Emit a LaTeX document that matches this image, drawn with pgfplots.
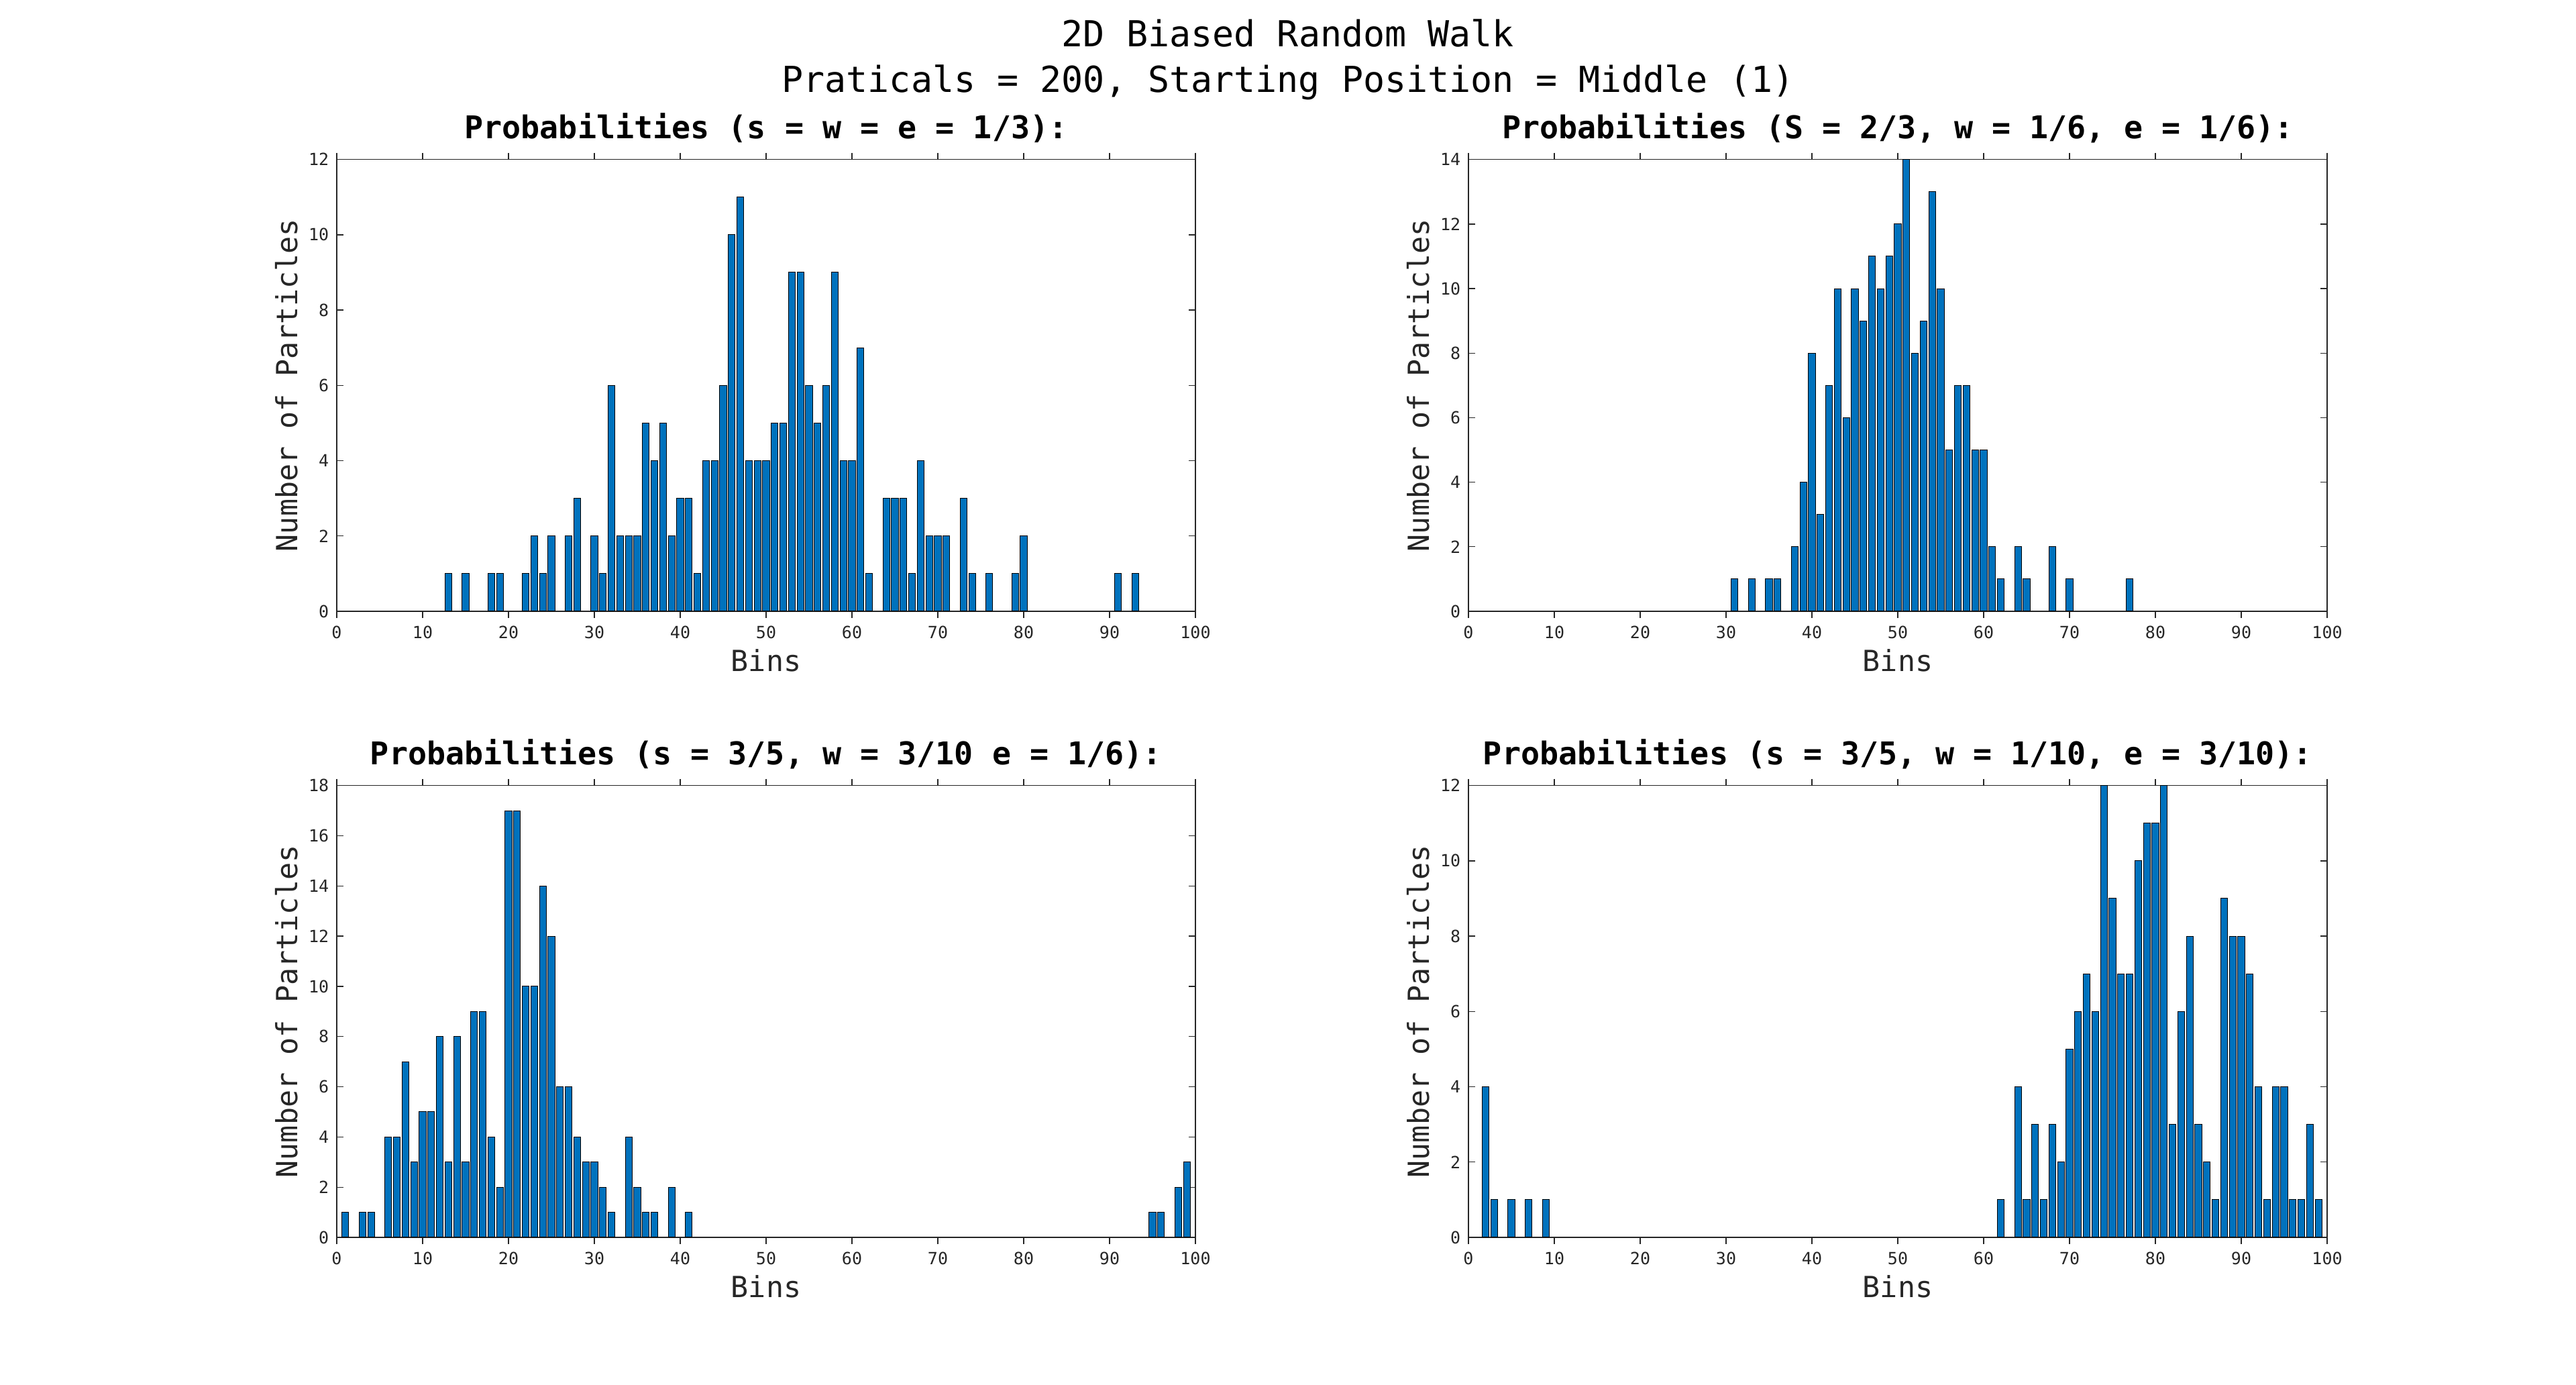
\documentclass[border=0pt]{standalone}
\usepackage{fontspec}
\setmainfont{DejaVu Sans Mono}
\usepackage{pgfplots}
\pgfplotsset{compat=1.18}
\definecolor{mblue}{HTML}{0072BD}
\definecolor{mgray}{HTML}{262626}
\pgfplotsset{
  hist/.style={
    scale only axis, width=384pt, height=202pt, anchor=south west,
    xmin=0, xmax=100, ymin=0,
    xtick={0,10,...,100},
    tick align=inside, tick pos=both, major tick length=3pt,
    axis line style={mgray, line width=0.4pt},
    tick style={mgray, line width=0.4pt},
    /pgf/number format/assume math mode=true,
    ticklabel style={font=\fontsize{7.5}{9}\selectfont, text=mgray},
    xlabel={Bins}, ylabel={Number of Particles},
    label style={font=\fontsize{13}{15}\selectfont, text=mgray},
    xlabel style={yshift=2pt},
    ylabel style={yshift=-2pt},
    title style={font=\bfseries\fontsize{14}{16}\selectfont, yshift=-2pt},
    ybar, bar width=0.8,
  },
  hbar/.style={fill=mblue, draw=black, line width=0.3pt},
}
\begin{document}
\begin{tikzpicture}
\path[use as bounding box] (0,0) rectangle (1152pt,618.9pt);
\node[font=\fontsize{16}{18}\selectfont, text=black] at (576pt,604pt) {2D Biased Random Walk};
\node[font=\fontsize{16}{18}\selectfont, text=black] at (576pt,582pt) {Praticals = 200, Starting Position = Middle (1)};

\begin{axis}[hist, at={(150.6pt,345.6pt)}, ymax=12, ytick={0,2,...,12},
  title={Probabilities (s = w = e = 1/3):}]
\addplot[hbar] coordinates {(13,1)(15,1)(18,1)(19,1)(22,1)(23,2)(24,1)(25,2)(27,2)(28,3)(30,2)(31,1)(32,6)(33,2)(34,2)(35,2)(36,5)(37,4)(38,5)(39,2)(40,3)(41,3)(42,1)(43,4)(44,4)(45,6)(46,10)(47,11)(48,4)(49,4)(50,4)(51,5)(52,5)(53,9)(54,9)(55,6)(56,5)(57,6)(58,9)(59,4)(60,4)(61,7)(62,1)(64,3)(65,3)(66,3)(67,1)(68,4)(69,2)(70,2)(71,2)(73,3)(74,1)(76,1)(79,1)(80,2)(91,1)(93,1)};
\end{axis}

\begin{axis}[hist, at={(656.7pt,345.6pt)}, ymax=14, ytick={0,2,...,14},
  title={Probabilities (S = 2/3, w = 1/6, e = 1/6):}]
\addplot[hbar] coordinates {(31,1)(33,1)(35,1)(36,1)(38,2)(39,4)(40,8)(41,3)(42,7)(43,10)(44,6)(45,10)(46,9)(47,11)(48,10)(49,11)(50,12)(51,14)(52,8)(53,9)(54,13)(55,10)(56,5)(57,7)(58,7)(59,5)(60,5)(61,2)(62,1)(64,2)(65,1)(68,2)(70,1)(77,1)};
\end{axis}

\begin{axis}[hist, at={(150.6pt,65.7pt)}, ymax=18, ytick={0,2,...,18},
  title={Probabilities (s = 3/5, w = 3/10 e = 1/6):}]
\addplot[hbar] coordinates {(1,1)(3,1)(4,1)(6,4)(7,4)(8,7)(9,3)(10,5)(11,5)(12,8)(13,3)(14,8)(15,3)(16,9)(17,9)(18,4)(19,2)(20,17)(21,17)(22,10)(23,10)(24,14)(25,12)(26,6)(27,6)(28,4)(29,3)(30,3)(31,2)(32,1)(34,4)(35,2)(36,1)(37,1)(39,2)(41,1)(95,1)(96,1)(98,2)(99,3)};
\end{axis}

\begin{axis}[hist, at={(656.7pt,65.7pt)}, ymax=12, ytick={0,2,...,12},
  title={Probabilities (s = 3/5, w = 1/10, e = 3/10):}]
\addplot[hbar] coordinates {(2,4)(3,1)(5,1)(7,1)(9,1)(62,1)(64,4)(65,1)(66,3)(67,1)(68,3)(69,2)(70,5)(71,6)(72,7)(73,6)(74,12)(75,9)(76,7)(77,7)(78,10)(79,11)(80,11)(81,12)(82,3)(83,6)(84,8)(85,3)(86,2)(87,1)(88,9)(89,8)(90,8)(91,7)(92,4)(93,1)(94,4)(95,4)(96,1)(97,1)(98,3)(99,1)};
\end{axis}
\end{tikzpicture}
\end{document}
